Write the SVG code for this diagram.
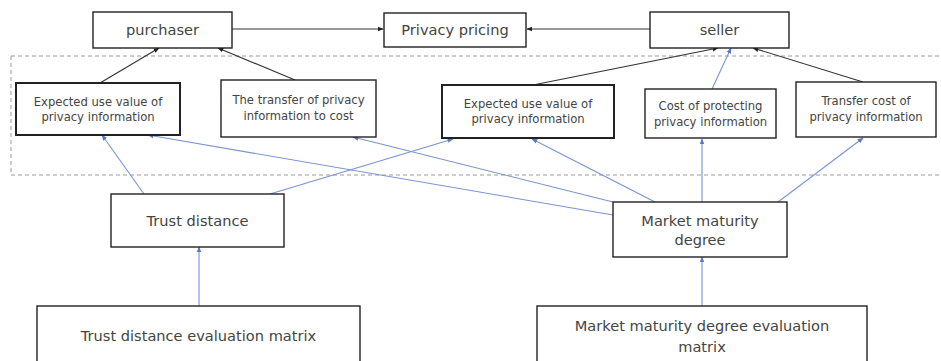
<svg xmlns="http://www.w3.org/2000/svg" width="941" height="361" viewBox="0 0 941 361">
  <style>
    .box { fill: #ffffff; stroke: #222222; stroke-width: 1.4; }
    .box.thick { stroke-width: 2; }
    .lbl { font-family: "DejaVu Sans", "Liberation Sans", sans-serif; fill: #444444; text-anchor: middle; }
    .big { font-size: 14.6px; }
    .small { font-size: 11.6px; }
    .dark { fill: none; stroke: #333333; stroke-width: 1.1; }
    .blue { fill: none; stroke: #7b93d4; stroke-width: 1.1; }
    .group { fill: none; stroke: #9a9a9a; stroke-width: 1; stroke-dasharray: 4 3; }
  </style>
  <defs>
    <marker id="arrDark" viewBox="0 0 10 10" refX="9" refY="5" markerWidth="6" markerHeight="6" markerUnits="userSpaceOnUse" orient="auto">
      <path d="M0,1 L10,5 L0,9 z" fill="#222222"/>
    </marker>
    <marker id="arrBlue" viewBox="0 0 10 10" refX="9" refY="5" markerWidth="6" markerHeight="6" markerUnits="userSpaceOnUse" orient="auto">
      <path d="M0,1 L10,5 L0,9 z" fill="#5a78c8"/>
    </marker>
  </defs>

  <rect width="941" height="361" fill="#ffffff"/>

  <!-- dashed frame around the factor layer -->
  <rect class="group" x="11" y="56" width="940" height="119"/>

  <g id="connectors">
    <line class="dark" x1="232" y1="29" x2="383" y2="29" marker-end="url(#arrDark)"/>
    <line class="dark" x1="650" y1="29" x2="527" y2="29" marker-end="url(#arrDark)"/>
    <line class="dark" x1="100" y1="83" x2="159" y2="48" marker-end="url(#arrDark)"/>
    <line class="dark" x1="295" y1="80" x2="218" y2="48" marker-end="url(#arrDark)"/>
    <line class="dark" x1="533" y1="85" x2="718" y2="48" marker-end="url(#arrDark)"/>
    <line class="dark" x1="863" y1="82" x2="753" y2="48" marker-end="url(#arrDark)"/>
    <line class="blue" x1="712" y1="89" x2="731" y2="48" marker-end="url(#arrBlue)"/>
    <line class="blue" x1="199" y1="306" x2="199" y2="247" marker-end="url(#arrBlue)"/>
    <line class="blue" x1="702" y1="306" x2="702" y2="257" marker-end="url(#arrBlue)"/>
    <line class="blue" x1="144" y1="194" x2="102" y2="135" marker-end="url(#arrBlue)"/>
    <line class="blue" x1="270" y1="194" x2="453" y2="139" marker-end="url(#arrBlue)"/>
    <line class="blue" x1="613" y1="215" x2="148" y2="135" marker-end="url(#arrBlue)"/>
    <line class="blue" x1="613" y1="202" x2="353" y2="137" marker-end="url(#arrBlue)"/>
    <line class="blue" x1="655" y1="202" x2="532" y2="139" marker-end="url(#arrBlue)"/>
    <line class="blue" x1="702" y1="202" x2="702" y2="139" marker-end="url(#arrBlue)"/>
    <line class="blue" x1="778" y1="202" x2="863" y2="138" marker-end="url(#arrBlue)"/>
  </g>

  <g id="purchaser">
    <rect class="box" x="93" y="12" width="139" height="36"/>
    <text class="lbl big" x="162.5" y="35">purchaser</text>
  </g>
  <g id="privacy-pricing">
    <rect class="box" x="384" y="13" width="142" height="34"/>
    <text class="lbl big" x="455" y="35">Privacy pricing</text>
  </g>
  <g id="seller">
    <rect class="box" x="650" y="12" width="139" height="36"/>
    <text class="lbl big" x="719.5" y="35">seller</text>
  </g>

  <g id="buyer-use-value">
    <rect class="box thick" x="16" y="83" width="164" height="52"/>
    <text class="lbl small" x="98" y="106">Expected use value of</text>
    <text class="lbl small" x="98" y="121">privacy information</text>
  </g>
  <g id="transfer-to-cost">
    <rect class="box" x="221" y="80" width="155" height="57"/>
    <text class="lbl small" x="298.5" y="104">The transfer of privacy</text>
    <text class="lbl small" x="298.5" y="120">information to cost</text>
  </g>
  <g id="seller-use-value">
    <rect class="box thick" x="442" y="85" width="172" height="53"/>
    <text class="lbl small" x="528" y="108">Expected use value of</text>
    <text class="lbl small" x="528" y="123">privacy information</text>
  </g>
  <g id="protection-cost">
    <rect class="box" x="645" y="89" width="131" height="49"/>
    <text class="lbl small" x="710.5" y="110">Cost of protecting</text>
    <text class="lbl small" x="710.5" y="126">privacy information</text>
  </g>
  <g id="transfer-cost">
    <rect class="box" x="796" y="82" width="140" height="55"/>
    <text class="lbl small" x="866" y="105">Transfer cost of</text>
    <text class="lbl small" x="866" y="121">privacy information</text>
  </g>

  <g id="trust-distance">
    <rect class="box" x="111" y="194" width="173" height="53"/>
    <text class="lbl big" x="197.5" y="226">Trust distance</text>
  </g>
  <g id="market-maturity">
    <rect class="box" x="613" y="202" width="174" height="55"/>
    <text class="lbl big" x="700" y="226">Market maturity</text>
    <text class="lbl big" x="700" y="245">degree</text>
  </g>

  <g id="trust-matrix">
    <rect class="box" x="37" y="306" width="323" height="64"/>
    <text class="lbl big" x="198.5" y="341">Trust distance evaluation matrix</text>
  </g>
  <g id="market-matrix">
    <rect class="box" x="537" y="306" width="330" height="64"/>
    <text class="lbl big" x="702" y="331">Market maturity degree evaluation</text>
    <text class="lbl big" x="702" y="352">matrix</text>
  </g>
</svg>
